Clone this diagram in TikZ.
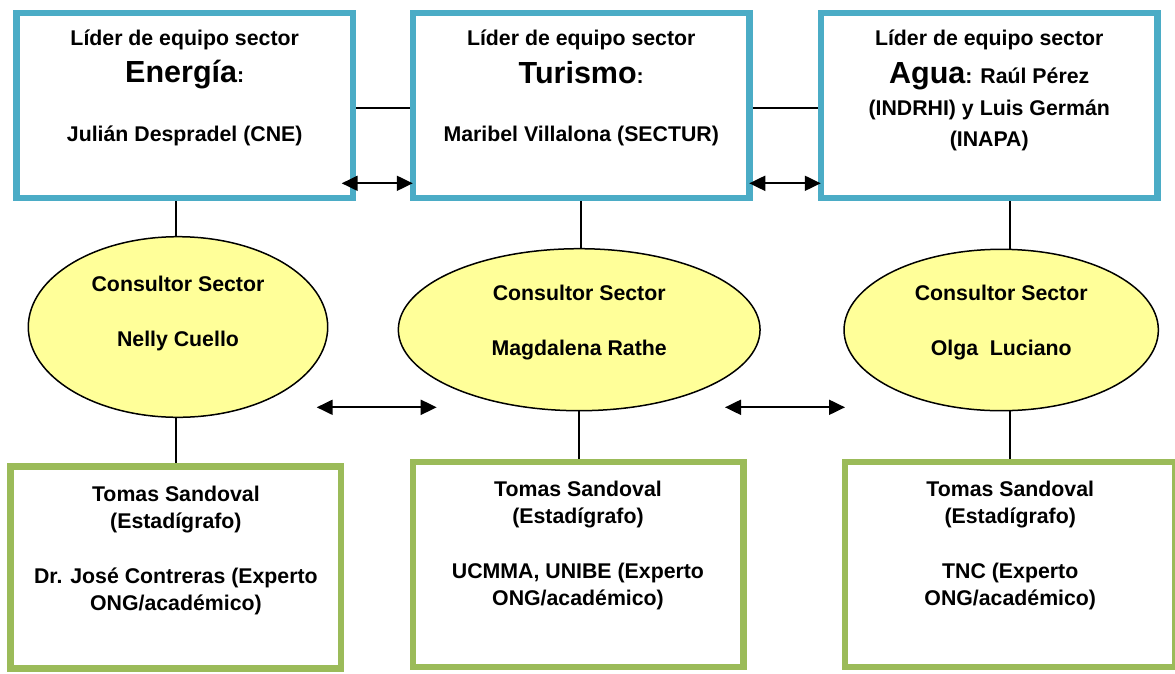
\documentclass[tikz,border=0pt]{standalone}
\usepackage{fontspec}
\setmainfont{Liberation Sans}
\usepackage{tikz}
\usetikzlibrary{shapes.geometric,arrows.meta,positioning}

\definecolor{leadblue}{HTML}{4BACC6}
\definecolor{teamgreen}{HTML}{9BBB59}
\definecolor{consyellow}{HTML}{FFFF99}
\newcommand{\bigsector}[1]{{\fontsize{30.5}{30}\selectfont #1}}
\newcommand{\firstline}{\rule{0pt}{20pt}}

\begin{document}
\begin{tikzpicture}[
x=1pt,y=-1pt,
lead/.style={
  draw=leadblue,
  line width=6.5pt,
  minimum width=336.5pt,
  minimum height=185pt
},
team/.style={
  draw=teamgreen,
  line width=6.5pt,
  minimum width=330.5pt
},
cons/.style={
  draw,
  ellipse,
  fill=consyellow,
  line width=1.5pt,
  inner sep=0pt
},
txt/.style={
  anchor=north,
  align=center,
  inner sep=0pt,
  font=\fontsize{21.3}{27}\selectfont\bfseries
},
link/.style={line width=1.75pt},
dblarrow/.style={
  <->,
  >={Triangle[length=16pt,width=15pt]},
  line width=2pt
}
]
\useasboundingbox (0,0) rectangle (1175,673);

\node[lead] at (184.7,105.3) (lead1) {};
\node[lead] at (581.25,105.3) (lead2) {};
\node[lead] at (989.25,105.3) (lead3) {};

\node[txt] at (184.7,25.5) (lead1txt)
  {\firstline Líder de equipo sector\\[9.4pt]\bigsector{Energía}:\\[32.4pt]Julián Despradel (CNE)};
\node[txt] at (581.25,25.5) (lead2txt)
  {\firstline Líder de equipo sector\\[10.8pt]\bigsector{Turismo}:\\[31.4pt]Maribel Villalona (SECTUR)};
\node[txt] at (989.25,25.5) (lead3txt)
  {\firstline Líder de equipo sector\\[10.8pt]\bigsector{Agua}: Raúl Pérez\\[4.7pt](INDRHI) y Luis Germán\\[4.7pt](INAPA)};

\node[cons,minimum width=299.4pt,minimum height=180.6pt] at (178,327) (cons1) {};
\node[cons,minimum width=361.7pt,minimum height=162pt] at (579.2,329.7) (cons2) {};
\node[cons,minimum width=314.3pt,minimum height=161.4pt] at (1001.2,330) (cons3) {};

\node[txt] at (178,271) (cons1txt)
  {\firstline Consultor Sector\\[28pt]Nelly Cuello};
\node[txt] at (579.2,280) (cons2txt)
  {\firstline Consultor Sector\\[28pt]Magdalena Rathe};
\node[txt] at (1001.2,280) (cons3txt)
  {\firstline Consultor Sector\\[28pt]Olga\ \ Luciano};

\node[team,minimum height=201.6pt] at (175.9,567.5) (team1) {};
\node[team,minimum height=205.3pt] at (578,564.4) (team2) {};
\node[team,minimum height=205.3pt] at (1010.25,564.4) (team3) {};

\node[txt] at (175.9,481) (team1txt)
  {\firstline Tomas Sandoval\\(Estadígrafo)\\[28pt]Dr. José Contreras (Experto\\ONG/académico)};
\node[txt] at (578,476) (team2txt)
  {\firstline Tomas Sandoval\\(Estadígrafo)\\[28pt]UCMMA, UNIBE (Experto\\ONG/académico)};
\node[txt] at (1010.25,476) (team3txt)
  {\firstline Tomas Sandoval\\(Estadígrafo)\\[28pt]TNC (Experto\\ONG/académico)};

\draw[link] ([yshift=-3pt]lead1.east) -- ([yshift=-3pt]lead2.west);
\draw[link] ([yshift=-3pt]lead2.east) -- ([yshift=-3pt]lead3.west);
\draw[dblarrow] ([shift={(-14.5,-17.75)}]lead1.south east) -- ([shift={(3,-17.75)}]lead2.south west);
\draw[dblarrow] ([shift={(-3.5,-17.75)}]lead2.south east) -- ([shift={(3,-17.75)}]lead3.south west);

\draw[link] (team1.north |- lead1.south) -- (team1.north |- cons1.north);
\draw[link] (lead2.south) -- (lead2.south |- cons2.north);
\draw[link] (team3.north |- lead3.south) -- (team3.north |- cons3.north);

\draw[link] (team1.north |- cons1.south) -- (team1.north);
\draw[link] (cons2.south) -- (cons2.south |- team2.north);
\draw[link] (team3.north |- cons3.south) -- (team3.north);

\coordinate (mid1a) at (316.7,407.3);
\coordinate (mid1b) at (436.7,407.3);
\coordinate (mid2a) at (725,407.3);
\coordinate (mid2b) at (845,407.3);
\draw[dblarrow] (mid1a) -- (mid1b);
\draw[dblarrow] (mid2a) -- (mid2b);

\end{tikzpicture}
\end{document}
